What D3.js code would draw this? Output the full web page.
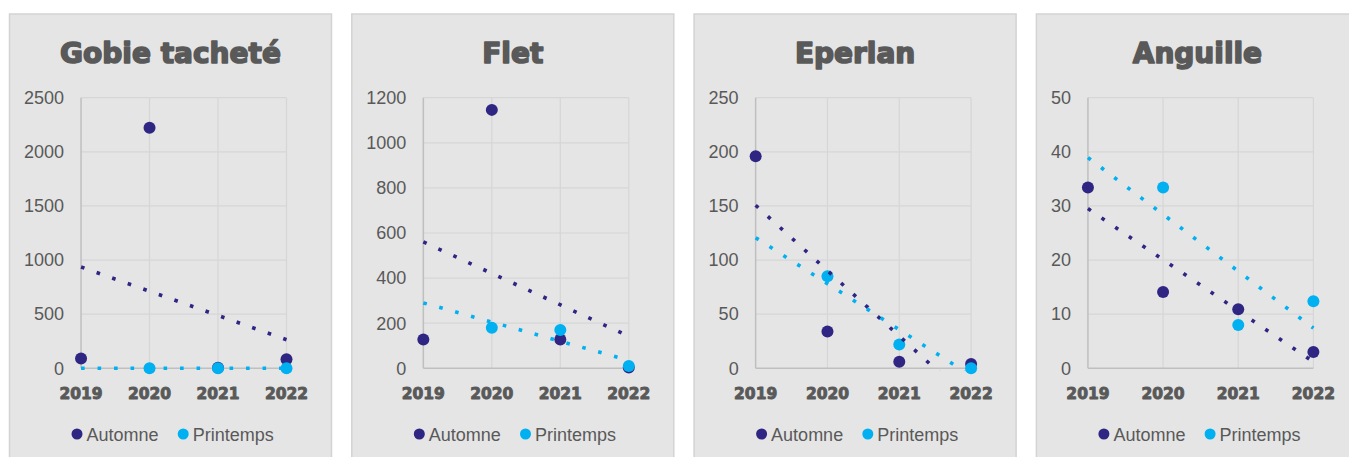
<!DOCTYPE html>
<html>
<head>
<meta charset="utf-8">
<script src="https://cdn.jsdelivr.net/npm/d3@7/dist/d3.min.js"></script>
<style>
  html, body { margin: 0; padding: 0; background: #ffffff; }
  svg { display: block; }
</style>
</head>
<body>
<svg id="chart" width="1349" height="457"></svg>
<script>
// Years on the category axis
const years = [2019, 2020, 2021, 2022];

// Species shown, one panel each
const species = ["Gobie tacheté", "Flet", "Eperlan", "Anguille"];

// Catches per season (null = no sampling that year)
const gobieAutomne     = [90, 2223, 5, 83];
const gobiePrintemps   = [null, 0, 0, 0];
const fletAutomne      = [128, 1146, 128, 3];
const fletPrintemps    = [null, 180, 170, 10];
const eperlanAutomne   = [196, 34, 6, 4];
const eperlanPrintemps = [null, 85, 22, 0];
const anguilleAutomne  = [33.4, 14.1, 10.9, 3];
const anguillePrintemps = [null, 33.4, 8, 12.4];

// Value-axis ticks per panel
const gobieTicks    = [0, 500, 1000, 1500, 2000, 2500];
const fletTicks     = [0, 200, 400, 600, 800, 1000, 1200];
const eperlanTicks  = [0, 50, 100, 150, 200, 250];
const anguilleTicks = [0, 10, 20, 30, 40, 50];

// Legend labels
const seasons = ["Automne", "Printemps"];

const panelSeries = [
  [gobieAutomne, gobiePrintemps],
  [fletAutomne, fletPrintemps],
  [eperlanAutomne, eperlanPrintemps],
  [anguilleAutomne, anguillePrintemps]
];
const panelTicks = [gobieTicks, fletTicks, eperlanTicks, anguilleTicks];

const colors = ["#2f2683", "#00b0f0"];
const textColor = "#595959";

const svg = d3.select("#chart");

const panelW = 322, panelTop = 14, panelStep = 342.3, panelX0 = 9.5;
const plotTop = 97.7, plotBottom = 368.3, plotRight = 277;

// Least-squares line through the non-missing points (x = category index)
function linearFit(values) {
  const pts = values.map((v, i) => [i, v]).filter(d => d[1] !== null);
  const mx = d3.mean(pts, d => d[0]);
  const my = d3.mean(pts, d => d[1]);
  const sxy = d3.sum(pts, d => (d[0] - mx) * (d[1] - my));
  const sxx = d3.sum(pts, d => (d[0] - mx) ** 2);
  const slope = sxy / sxx;
  return x => my + slope * (x - mx);
}

species.forEach((name, p) => {
  const g = svg.append("g")
    .attr("transform", `translate(${panelX0 + p * panelStep},${panelTop})`);

  g.append("rect")
    .attr("x", 0).attr("y", 0)
    .attr("width", panelW).attr("height", 470)
    .attr("fill", "#e5e5e5")
    .attr("stroke", "#d3d3d3")
    .attr("stroke-width", 1.5);

  // Title
  g.append("text")
    .attr("x", panelW / 2).attr("y", 49)
    .attr("text-anchor", "middle")
    .attr("font-family", "DejaVu Sans")
    .attr("font-weight", "bold")
    .attr("font-size", 28)
    .attr("fill", textColor)
    .attr("stroke", textColor)
    .attr("stroke-width", 1.6)
    .attr("stroke-linejoin", "round")
    .text(name);

  const ticks = panelTicks[p];
  const yTop = plotTop - panelTop, yBot = plotBottom - panelTop;

  // Value-axis labels, measured to place the plot's left edge
  const labelG = g.append("g");
  const labels = labelG.selectAll("text").data(ticks).join("text")
    .attr("font-family", "Liberation Sans, Arial, sans-serif")
    .attr("font-size", 18)
    .attr("fill", textColor)
    .attr("text-anchor", "end")
    .attr("dy", "0.35em")
    .text(d => d);
  let maxW = 0;
  labels.each(function () { maxW = Math.max(maxW, this.getComputedTextLength()); });
  const labelRight = 14.5 + maxW;
  const plotLeft = labelRight + 17;

  const x = d3.scalePoint().domain(years).range([plotLeft, plotRight]);
  const y = d3.scaleLinear().domain([0, d3.max(ticks)]).range([yBot, yTop]);

  labels.attr("x", labelRight).attr("y", d => y(d));

  // Gridlines
  g.append("g").selectAll("line").data(ticks.slice(1)).join("line")
    .attr("x1", plotLeft).attr("x2", plotRight)
    .attr("y1", d => y(d)).attr("y2", d => y(d))
    .attr("stroke", "#d6d6d6").attr("stroke-width", 1.2);
  g.append("g").selectAll("line").data(years.slice(1)).join("line")
    .attr("x1", d => x(d)).attr("x2", d => x(d))
    .attr("y1", yTop).attr("y2", yBot)
    .attr("stroke", "#d6d6d6").attr("stroke-width", 1.2);

  // Axis lines
  g.append("line")
    .attr("x1", plotLeft).attr("x2", plotLeft)
    .attr("y1", yTop).attr("y2", yBot)
    .attr("stroke", "#bfbfbf").attr("stroke-width", 1.5);
  g.append("line")
    .attr("x1", plotLeft).attr("x2", plotRight)
    .attr("y1", yBot).attr("y2", yBot)
    .attr("stroke", "#bfbfbf").attr("stroke-width", 1.5);

  // Year labels
  g.append("g").selectAll("text").data(years).join("text")
    .attr("x", d => x(d)).attr("y", 399 - panelTop)
    .attr("text-anchor", "middle")
    .attr("font-family", "DejaVu Sans")
    .attr("font-weight", "bold")
    .attr("font-size", 15.5)
    .attr("fill", textColor)
    .attr("stroke", textColor)
    .attr("stroke-width", 0.9)
    .attr("stroke-linejoin", "round")
    .text(d => d);

  // Markers
  panelSeries[p].forEach((vals, s) => {
    g.append("g").selectAll("circle")
      .data(vals.map((v, i) => ({ year: years[i], v })).filter(d => d.v !== null))
      .join("circle")
      .attr("cx", d => x(d.year))
      .attr("cy", d => y(d.v))
      .attr("r", 6)
      .attr("fill", colors[s]);
  });

  // Linear trendlines, clipped to the plot area (a line lying on zero stays whole)
  const clipId = `clip-${p}`;
  g.append("clipPath").attr("id", clipId)
    .append("rect")
    .attr("x", plotLeft - 2).attr("y", yTop)
    .attr("width", plotRight - plotLeft + 4).attr("height", yBot - yTop + 2.2);

  panelSeries[p].forEach((vals, s) => {
    const fit = linearFit(vals);
    const line = d3.line()
      .x(d => x(years[0]) + (x(years[1]) - x(years[0])) * d)
      .y(d => y(fit(d)));
    g.append("path")
      .attr("clip-path", `url(#${clipId})`)
      .attr("d", line([0, years.length - 1]))
      .attr("fill", "none")
      .attr("stroke", colors[s])
      .attr("stroke-width", 3.6)
      .attr("stroke-dasharray", "3.6 12.9");
  });

  // Legend
  const legendXs = [67.5, 173.7];
  seasons.forEach((label, s) => {
    g.append("circle")
      .attr("cx", legendXs[s]).attr("cy", 434 - panelTop)
      .attr("r", 5.5)
      .attr("fill", colors[s]);
    g.append("text")
      .attr("x", legendXs[s] + 9.5).attr("y", 440.5 - panelTop)
      .attr("font-family", "Liberation Sans, Arial, sans-serif")
      .attr("font-size", 18)
      .attr("fill", textColor)
      .text(label);
  });
});
</script>
</body>
</html>
